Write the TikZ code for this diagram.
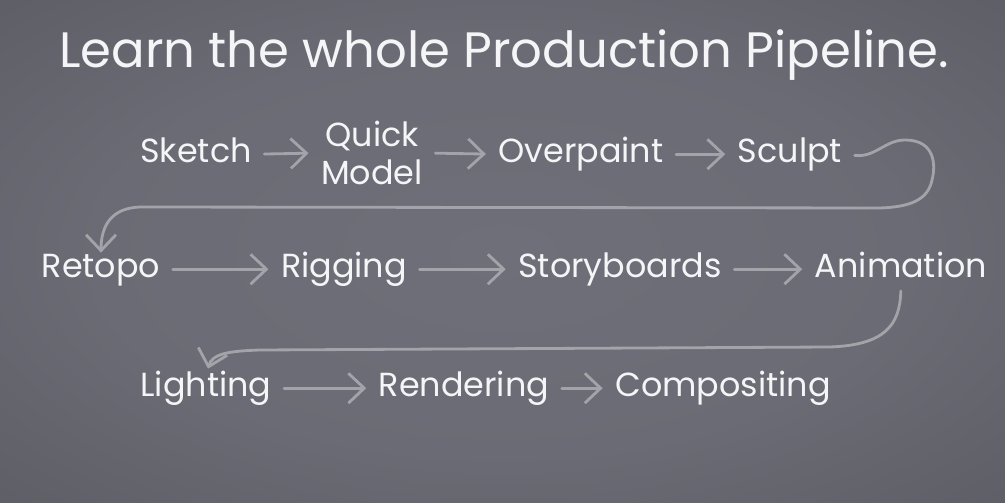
\documentclass[tikz,border=0pt]{standalone}
\usepackage{fontspec}
\setmainfont{Poppins}
\usetikzlibrary{arrows.meta}

\definecolor{bgin}{HTML}{6E6F78}
\definecolor{bgout}{HTML}{3F4047}
\definecolor{inkgray}{HTML}{A3A4AA}
\definecolor{txt}{HTML}{F5F5F7}
\pgfdeclareradialshading{bgshade}{\pgfpoint{0bp}{0bp}}{color(0bp)=(bgin); color(20bp)=(bgin!92!bgout); color(72bp)=(bgout)}

\tikzset{
  stage/.style={text=txt, font=\fontsize{19}{21.5}\selectfont, inner sep=2pt, anchor=base},
  flow/.style={draw=inkgray, line width=1.6pt, line cap=round,
    -{Straight Barb[length=9pt,width=17pt]}, shorten <=5pt, shorten >=5pt},
  loop/.style={flow, shorten >=0.5pt}
}

\begin{document}
\begin{tikzpicture}[x=0.02cm, y=-0.02cm]
   \shade[shading=bgshade] (0,0) rectangle (1005,503);
   \useasboundingbox (0,0) rectangle (1005,503);
   \node[text=txt, font=\fontsize{28.3}{34}\selectfont, anchor=base] (title) at (504,68) {Learn the whole Production Pipeline.};
   % first row
   \node[stage] (sketch) at (196,163) {Sketch};
   \node[stage, anchor=center, align=center] (quick) at (372,153) {Quick\\Model};
   \node[stage] (overpaint) at (581,163) {Overpaint};
   \node[stage] (sculpt) at (790,163) {Sculpt};
   % second row
   \node[stage] (retopo) at (101,278) {Retopo};
   \node[stage] (rigging) at (344,278) {Rigging};
   \node[stage] (story) at (620,278) {Storyboards};
   \node[stage] (anim) at (901,278) {Animation};
   % third row
   \node[stage] (lighting) at (206,397) {Lighting};
   \node[stage] (render) at (464,397) {Rendering};
   \node[stage] (comp) at (723,397) {Compositing};

   \draw[flow] ([yshift=5pt]sketch.base east) -- (quick.west);
   \draw[flow] (quick.east) -- ([yshift=5pt]overpaint.base west);
   \draw[flow] ([yshift=5pt]overpaint.base east) -- ([yshift=5pt]sculpt.base west);
   \draw[loop] ([yshift=5pt]sculpt.base east) .. controls (875,158) and (885,140) .. (905,140)
      .. controls (935,140) and (936,165) .. (932,180)
      .. controls (928,200) and (910,207) .. (880,208) -- (140,207)
      .. controls (112,208) and (101,225) .. ([yshift=-1.5pt]retopo.north);
   \draw[flow] ([yshift=5pt]retopo.base east) -- ([yshift=5pt]rigging.base west);
   \draw[flow] ([yshift=5pt]rigging.base east) -- ([yshift=5pt]story.base west);
   \draw[flow] ([yshift=5pt]story.base east) -- ([yshift=5pt]anim.base west);
   \draw[loop] (anim.south) .. controls (900,325) and (885,345) .. (830,347) -- (260,350)
      .. controls (228,351) and (212,354) .. ([xshift=1pt,yshift=-1pt]lighting.north);
   \draw[flow] ([yshift=5pt]lighting.base east) -- ([yshift=5pt]render.base west);
   \draw[flow] ([yshift=5pt]render.base east) -- ([yshift=5pt]comp.base west);
\end{tikzpicture}
\end{document}
